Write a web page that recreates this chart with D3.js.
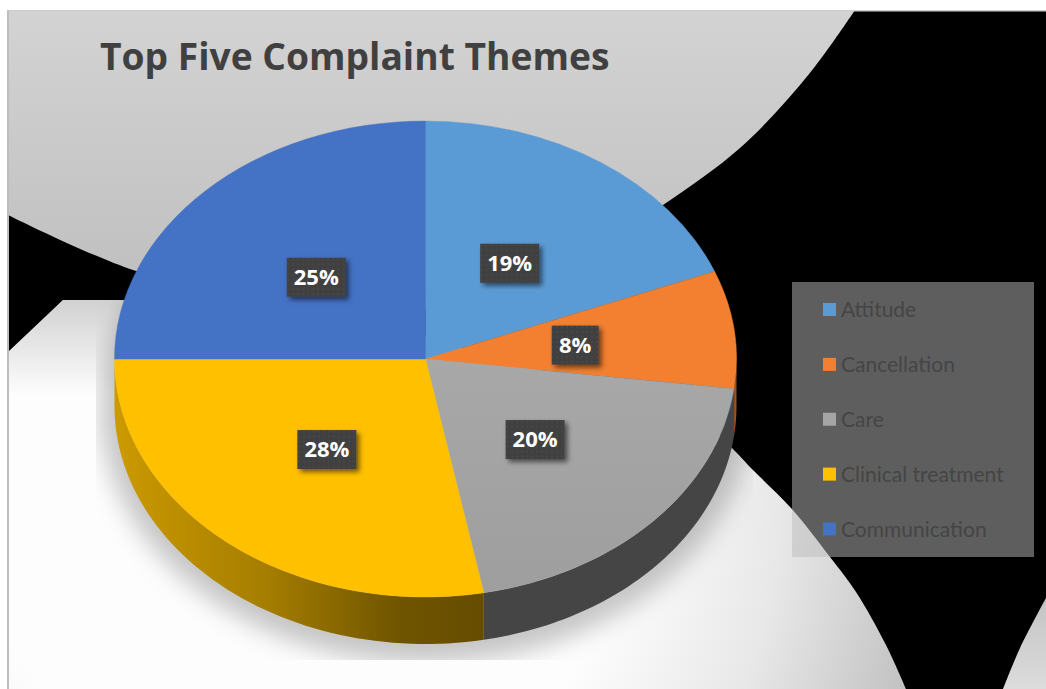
<!DOCTYPE html>
<html>
<head>
<meta charset="utf-8">
<script src="https://cdn.jsdelivr.net/npm/d3@7/dist/d3.min.js"></script>
<style>
html,body{margin:0;padding:0;background:#fff;overflow:hidden}
svg{display:block}
text{font-family:Lato,"Open Sans",sans-serif}
text.heavy{font-family:"Open Sans",Lato,sans-serif;font-weight:700}
</style>
</head>
<body>
<svg id="chart" width="1046" height="689"></svg>
<script>
// Complaint themes, in drawing order (clockwise from twelve o'clock)
const categories = ["Attitude", "Cancellation", "Care", "Clinical treatment", "Communication"];
const shares = [19, 8, 20, 28, 25];
const topColors = ["#5b9bd5", "#f28030", "#a5a5a5", "#ffc000", "#4472c4"];
const chartTitle = "Top Five Complaint Themes";

const W = 1046, H = 689;
const cx = 425.5, cy = 359, rx = 311, ry = 238, depth = 47;

const svg = d3.select("#chart");
const defs = svg.append("defs");

function linearGradient(id, attrs, stops) {
  const g = defs.append("linearGradient").attr("id", id).attr("gradientUnits", "userSpaceOnUse");
  Object.entries(attrs).forEach(([k, v]) => g.attr(k, v));
  stops.forEach(([o, c, a]) => g.append("stop").attr("offset", o).attr("stop-color", c).attr("stop-opacity", a === undefined ? 1 : a));
}

linearGradient("upperFill", {x1: 0, y1: 10, x2: 0, y2: 280}, [[0, "#d3d3d3"], [1, "#c0c0c0"]]);
linearGradient("lowerFade", {x1: 0, y1: 300, x2: 0, y2: 395}, [[0, "#909090", 0.4], [1, "#909090", 0]]);
linearGradient("cornerFill", {x1: 1046, y1: 600, x2: 1046, y2: 689}, [[0, "#c4c4c4"], [1, "#dcdcdc"]]);
linearGradient("wallClinical", {x1: cx - rx, y1: 0, x2: cx + 70, y2: 0},
  [[0, "#cc9a00"], [0.4, "#a57d00"], [0.75, "#6f5400"], [1, "#644b00"]]);
// Lives in the scaled coordinates of the top face
linearGradient("careTop", {x1: 0, y1: 0, x2: 0, y2: rx}, [[0, "#a8a8a8"], [1, "#9e9e9e"]]);

const lowerGrad = defs.append("radialGradient").attr("id", "lowerFill")
  .attr("gradientUnits", "userSpaceOnUse").attr("cx", 300).attr("cy", 500).attr("r", 640);
lowerGrad.append("stop").attr("offset", 0.5).attr("stop-color", "#fdfdfd");
lowerGrad.append("stop").attr("offset", 0.75).attr("stop-color", "#e8e8e8");
lowerGrad.append("stop").attr("offset", 1).attr("stop-color", "#c0c0c0");

defs.append("filter").attr("id", "pieShadow").attr("x", "-20%").attr("y", "-20%").attr("width", "140%").attr("height", "140%")
  .append("feGaussianBlur").attr("stdDeviation", 12);

const tagShadow = defs.append("filter").attr("id", "tagShadow").attr("x", "-30%").attr("y", "-30%").attr("width", "170%").attr("height", "170%");
tagShadow.append("feDropShadow").attr("dx", 3).attr("dy", 3).attr("stdDeviation", 2.5)
  .attr("flood-color", "#000").attr("flood-opacity", 0.55);

const dots = defs.append("pattern").attr("id", "tagDots").attr("width", 5).attr("height", 5).attr("patternUnits", "userSpaceOnUse");
dots.append("rect").attr("width", 5).attr("height", 5).attr("fill", "#404040");
dots.append("circle").attr("cx", 2).attr("cy", 2).attr("r", 0.8).attr("fill", "#505050");

defs.append("clipPath").attr("id", "shadowClip").append("rect")
  .attr("x", 96).attr("y", 290).attr("width", 657).attr("height", 370);

// Backdrop: black plate with three pale curved shapes
const bg = svg.append("g");
const curve = d3.line().curve(d3.curveCatmullRom.alpha(0.5));
bg.append("rect").attr("x", 8).attr("y", 10).attr("width", W - 8).attr("height", H - 10).attr("fill", "#000");

const upperEdge = curve([[855, 10], [833, 42], [800, 85], [740, 148], [663, 205], [560, 270], [426, 310], [280, 305], [133, 270], [8, 215]]);
bg.append("path").attr("d", upperEdge + "L8,10Z").attr("fill", "url(#upperFill)");

const lowerEdge = curve([[700, 418], [731, 447], [753, 470], [791, 508], [830, 557], [856, 592], [886, 645], [906, 689]]);
const lowerShape = "M8,352L63,300L300,300L700,418" + lowerEdge.replace(/^M[^CL]*/, "") + "L8,689Z";
bg.append("path").attr("d", lowerShape).attr("fill", "url(#lowerFill)");
bg.append("path").attr("d", lowerShape).attr("fill", "url(#lowerFade)");

const cornerEdge = curve([[1003, 689], [1020, 648], [1046, 598]]);
bg.append("path").attr("d", cornerEdge + "L1046,689Z").attr("fill", "url(#cornerFill)");

// Frame lines along the top and left of the chart area
bg.append("rect").attr("x", 7).attr("y", 10).attr("width", W - 7).attr("height", 1.5).attr("fill", "#cfcfcf");
bg.append("rect").attr("x", 7).attr("y", 10).attr("width", 2).attr("height", H - 10).attr("fill", "#bdbdbd");

// Soft shadow under the pie, cut off by its rectangular effect box
svg.append("g").attr("clip-path", "url(#shadowClip)")
  .append("ellipse").attr("cx", cx).attr("cy", cy + depth + 2)
  .attr("rx", rx + 14).attr("ry", ry + 17)
  .attr("fill", "#000").attr("fill-opacity", 0.22).attr("filter", "url(#pieShadow)");

// Pie geometry: a flat d3 pie squashed into an ellipse
const slices = d3.pie().sort(null).value(d => d)(shares);
const arc = d3.arc().innerRadius(0).outerRadius(rx);
const yScale = ry / rx;

// Side wall of the disc, visible only on the near half
const wallFill = ["#8a4a18", "#9a5220", "#454545", "url(#wallClinical)", "#2a4480"];
const wallPath = (a0, a1) => {
  const ts = d3.range(0, 61).map(i => a0 + (a1 - a0) * i / 60);
  const pt = (t, dy) => [cx + rx * Math.sin(t), cy + dy - ry * Math.cos(t)];
  return d3.line()(ts.map(t => pt(t, 0)).concat(ts.slice().reverse().map(t => pt(t, depth)))) + "Z";
};
const nearSide = slices.map(s => ({
  a0: Math.max(s.startAngle, Math.PI / 2),
  a1: Math.min(s.endAngle, 1.5 * Math.PI),
  i: s.index
})).filter(s => s.a1 > s.a0);

svg.append("g").selectAll("path").data(nearSide).join("path")
  .attr("d", d => wallPath(d.a0, d.a1))
  .attr("fill", d => wallFill[d.i]);

// Top face; a hairline in each slice's own colour closes the seams between them
const face = svg.append("g").attr("transform", `translate(${cx},${cy}) scale(1,${yScale})`);
face.selectAll("path").data(slices).join("path")
  .attr("d", arc)
  .attr("fill", (d, i) => i === 2 ? "url(#careTop)" : topColors[i])
  .attr("stroke", (d, i) => topColors[i])
  .attr("stroke-width", 0.5);

// Percentage tags on each slice
const tagRadius = 0.49;
const tagH = 39;
const fmt = v => v + "%";
const tags = svg.append("g").selectAll("g").data(slices).join("g")
  .attr("transform", d => {
    const mid = (d.startAngle + d.endAngle) / 2;
    return `translate(${cx - 1.5 + rx * tagRadius * Math.sin(mid)},${cy + 0.7 - ry * tagRadius * Math.cos(mid)})`;
  });
tags.append("rect")
  .attr("x", d => d.value < 10 ? -23.5 : -29.5)
  .attr("width", d => d.value < 10 ? 47 : 59)
  .attr("y", -tagH / 2).attr("height", tagH)
  .attr("fill", "url(#tagDots)").attr("filter", "url(#tagShadow)");
tags.append("text").attr("class", "heavy").attr("text-anchor", "middle").attr("dy", "0.36em")
  .attr("fill", "#fff").attr("font-size", 22)
  .text(d => fmt(d.value));

// Title
svg.append("text").attr("class", "heavy").attr("x", 100).attr("y", 70)
  .attr("fill", "#404040").attr("font-size", 37.2)
  .text(chartTitle);

// Legend panel, translucent over the backdrop
svg.append("rect").attr("x", 792).attr("y", 282).attr("width", 242).attr("height", 275)
  .attr("fill", "#bcbcbc").attr("fill-opacity", 0.5);
const rowY = d3.scalePoint().domain(categories).range([309.5, 529]);
const rows = svg.append("g").selectAll("g").data(categories).join("g")
  .attr("transform", d => `translate(823,${rowY(d)})`);
rows.append("rect").attr("y", -6.5).attr("width", 13).attr("height", 13)
  .attr("fill", (d, i) => topColors[i]);
rows.append("text").attr("x", 18).attr("dy", "0.36em")
  .attr("fill", "#454545").attr("font-size", 21)
  .text(d => d);
</script>
</body>
</html>
